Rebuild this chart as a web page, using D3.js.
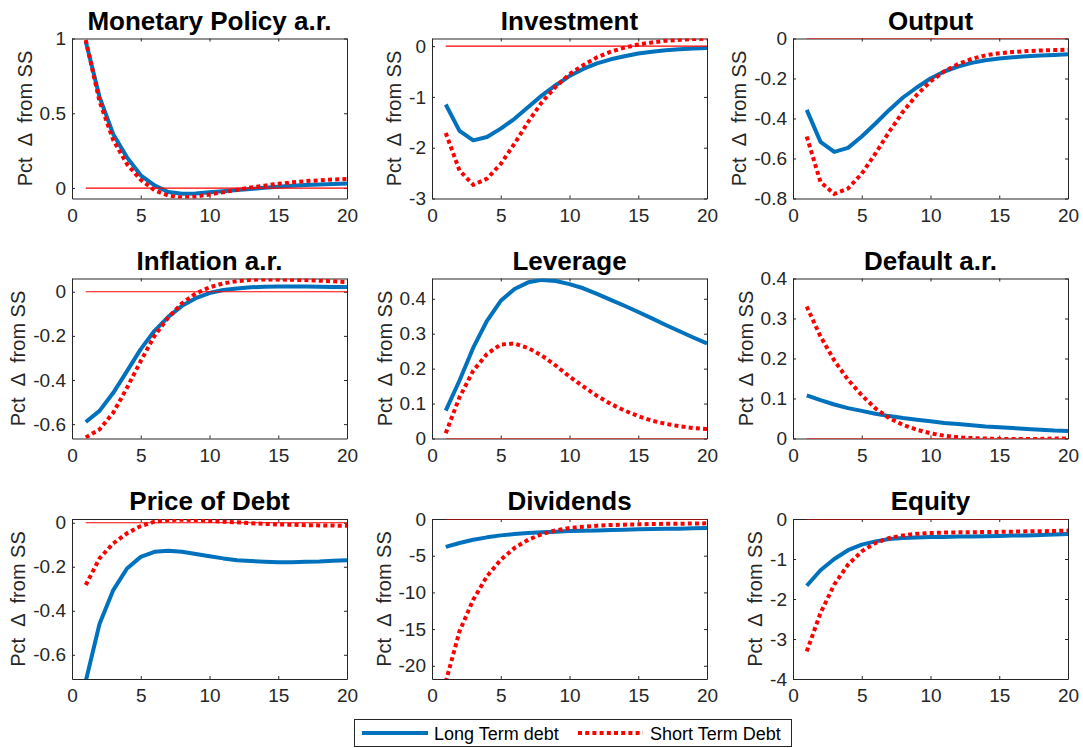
<!DOCTYPE html>
<html>
<head>
<meta charset="utf-8">
<script src="https://cdn.jsdelivr.net/npm/d3@7"></script>
<style>
body { margin: 0; background: #fff; }
svg { display: block; font-family: "Liberation Sans", Arial, Helvetica, sans-serif; }
.axis text { fill: #262626; font-size: 19px; }
.axis line, .axis path { stroke: #262626; stroke-width: 1; }
.ylab { white-space: pre; }
</style>
</head>
<body>
<svg id="chart" width="1083" height="748"></svg>
<script>
// quarters after the shock
var periods = [1, 2, 3, 4, 5, 6, 7, 8, 9, 10, 11, 12, 13, 14, 15, 16, 17, 18, 19, 20];
var xTicks = [0, 5, 10, 15, 20];

var titles = ["Monetary Policy a.r.", "Investment", "Output",
              "Inflation a.r.", "Leverage", "Default a.r.",
              "Price of Debt", "Dividends", "Equity"];

var seriesNames = ["Long Term debt", "Short Term Debt"];

// Long term debt (blue) / short term debt (red dotted)
var mpLong   = [0.98, 0.61, 0.36, 0.205, 0.085, 0.018, -0.027, -0.038, -0.036, -0.029, -0.021, -0.013, -0.006, 0.002, 0.009, 0.015, 0.02, 0.024, 0.027, 0.03];
var mpShort  = [0.99, 0.58, 0.32, 0.16, 0.055, -0.015, -0.05, -0.063, -0.057, -0.043, -0.028, -0.012, 0.003, 0.016, 0.028, 0.038, 0.046, 0.052, 0.057, 0.06];

var invLong  = [-1.15, -1.67, -1.855, -1.79, -1.625, -1.43, -1.2, -0.97, -0.77, -0.59, -0.45, -0.34, -0.26, -0.2, -0.145, -0.11, -0.08, -0.06, -0.046, -0.035];
var invShort = [-1.71, -2.45, -2.73, -2.61, -2.32, -1.92, -1.49, -1.1, -0.8, -0.55, -0.375, -0.22, -0.11, -0.03, 0.033, 0.072, 0.105, 0.125, 0.138, 0.145];

var outLong  = [-0.357, -0.517, -0.567, -0.547, -0.49, -0.425, -0.357, -0.295, -0.245, -0.2, -0.165, -0.14, -0.122, -0.109, -0.1, -0.094, -0.089, -0.085, -0.082, -0.079];
var outShort = [-0.49, -0.718, -0.777, -0.75, -0.676, -0.575, -0.466, -0.366, -0.282, -0.215, -0.165, -0.128, -0.102, -0.084, -0.074, -0.067, -0.063, -0.06, -0.058, -0.056];

var infLong  = [-0.59, -0.54, -0.458, -0.36, -0.26, -0.177, -0.114, -0.064, -0.029, -0.006, 0.008, 0.015, 0.02, 0.023, 0.024, 0.024, 0.024, 0.023, 0.022, 0.021];
var infShort = [-0.66, -0.624, -0.548, -0.435, -0.314, -0.2, -0.117, -0.052, -0.008, 0.02, 0.038, 0.048, 0.054, 0.056, 0.056, 0.054, 0.053, 0.05, 0.047, 0.044];

var levLong  = [0.08, 0.166, 0.26, 0.337, 0.394, 0.428, 0.447, 0.454, 0.451, 0.442, 0.43, 0.414, 0.397, 0.38, 0.362, 0.344, 0.325, 0.307, 0.289, 0.272];
var levShort = [0.015, 0.118, 0.194, 0.242, 0.269, 0.272, 0.259, 0.237, 0.209, 0.177, 0.149, 0.122, 0.099, 0.08, 0.064, 0.051, 0.042, 0.035, 0.03, 0.027];

var defLong  = [0.108, 0.096, 0.085, 0.076, 0.069, 0.062, 0.056, 0.051, 0.047, 0.043, 0.039, 0.036, 0.033, 0.03, 0.028, 0.026, 0.024, 0.022, 0.02, 0.019];
var defShort = [0.33, 0.255, 0.195, 0.147, 0.108, 0.075, 0.051, 0.034, 0.022, 0.013, 0.007, 0.003, 0.001, 0.0, -0.001, -0.001, -0.001, -0.001, 0.0, 0.0];

var podLong  = [-0.72, -0.46, -0.306, -0.208, -0.155, -0.132, -0.127, -0.132, -0.142, -0.152, -0.162, -0.17, -0.174, -0.177, -0.179, -0.179, -0.177, -0.176, -0.173, -0.17];
var podShort = [-0.283, -0.162, -0.094, -0.048, -0.015, 0.005, 0.012, 0.014, 0.012, 0.009, 0.005, 0.002, -0.002, -0.005, -0.008, -0.009, -0.011, -0.012, -0.013, -0.014];

var divLong  = [-3.8, -3.27, -2.82, -2.5, -2.23, -2.05, -1.9, -1.82, -1.73, -1.64, -1.6, -1.55, -1.5, -1.45, -1.41, -1.36, -1.34, -1.32, -1.27, -1.23];
var divShort = [-22.2, -15.3, -11, -7.8, -5.55, -3.95, -2.82, -2.05, -1.55, -1.23, -1.05, -0.91, -0.82, -0.77, -0.73, -0.68, -0.66, -0.64, -0.62, -0.59];

var eqLong   = [-1.67, -1.28, -1.0, -0.78, -0.64, -0.56, -0.5, -0.475, -0.46, -0.45, -0.45, -0.44, -0.435, -0.43, -0.425, -0.415, -0.41, -0.4, -0.39, -0.375];
var eqShort  = [-3.31, -2.35, -1.64, -1.14, -0.81, -0.6, -0.475, -0.41, -0.37, -0.35, -0.34, -0.333, -0.33, -0.325, -0.322, -0.317, -0.308, -0.305, -0.3, -0.29];

// y tick labels per panel
var mpTicks  = [0, 0.5, 1];
var invTicks = [-3, -2, -1, 0];
var outTicks = [-0.8, -0.6, -0.4, -0.2, 0];
var infTicks = [-0.6, -0.4, -0.2, 0];
var levTicks = [0, 0.1, 0.2, 0.3, 0.4];
var defTicks = [0, 0.1, 0.2, 0.3, 0.4];
var podTicks = [-0.6, -0.4, -0.2, 0];
var divTicks = [-20, -15, -10, -5, 0];
var eqTicks  = [-4, -3, -2, -1, 0];

var panels = [
    { long: mpLong,  short: mpShort,  ticks: mpTicks,  domain: [-0.07, 1] },
    { long: invLong, short: invShort, ticks: invTicks, domain: [-3, 0.15] },
    { long: outLong, short: outShort, ticks: outTicks, domain: [-0.8, 0] },
    { long: infLong, short: infShort, ticks: infTicks, domain: [-0.665, 0.06] },
    { long: levLong, short: levShort, ticks: levTicks, domain: [0, 0.458] },
    { long: defLong, short: defShort, ticks: defTicks, domain: [0, 0.4] },
    { long: podLong, short: podShort, ticks: podTicks, domain: [-0.71, 0.017] },
    { long: divLong, short: divShort, ticks: divTicks, domain: [-21.8, 0] },
    { long: eqLong,  short: eqShort,  ticks: eqTicks,  domain: [-4, 0] }
];

var blue = "#0072BD";
var red = "#FF0000";

var svg = d3.select("#chart");
var colLeft = [72, 432, 793];
var rowTop = [38.5, 278.5, 519];
var axW = 275, axH = 160;

var fmt = function(d) { return String(d); };

panels.forEach(function(p, i) {
    var g = svg.append("g")
        .attr("transform", "translate(" + colLeft[i % 3] + "," + rowTop[Math.floor(i / 3)] + ")");

    var x = d3.scaleLinear().domain([0, 20]).range([0, axW]);
    var y = d3.scaleLinear().domain(p.domain).range([axH, 0]);

    g.append("clipPath").attr("id", "clip" + i)
        .append("rect").attr("width", axW).attr("height", axH);

    // box with inward ticks on all sides
    g.append("g").attr("class", "axis")
        .attr("transform", "translate(0," + axH + ")")
        .call(d3.axisBottom(x).tickValues(xTicks).tickSize(-3).tickSizeOuter(0).tickPadding(10).tickFormat(fmt));
    g.append("g").attr("class", "axis")
        .call(d3.axisTop(x).tickValues(xTicks).tickSize(-3).tickSizeOuter(0).tickFormat(""));
    var yAxis = g.append("g").attr("class", "axis")
        .call(d3.axisLeft(y).tickValues(p.ticks).tickSize(-3).tickSizeOuter(0).tickPadding(6).tickFormat(fmt));
    g.append("g").attr("class", "axis")
        .attr("transform", "translate(" + axW + ",0)")
        .call(d3.axisRight(y).tickValues(p.ticks).tickSize(-3).tickSizeOuter(0).tickFormat(""));

    var line = d3.line()
        .x(function(d, k) { return x(periods[k]); })
        .y(function(d) { return y(d); });

    var plot = g.append("g").attr("clip-path", "url(#clip" + i + ")");
    plot.append("path").datum(p.long)
        .attr("d", line)
        .attr("fill", "none")
        .attr("stroke", blue)
        .attr("stroke-width", 4)
        .attr("stroke-linejoin", "round");
    plot.append("path").datum(p.short)
        .attr("d", line)
        .attr("fill", "none")
        .attr("stroke", red)
        .attr("stroke-width", 4)
        .attr("stroke-dasharray", "4,3.2");
    // steady state line
    plot.append("line")
        .attr("x1", x(periods[0])).attr("x2", x(periods[periods.length - 1]))
        .attr("y1", y(0)).attr("y2", y(0))
        .attr("stroke", red)
        .attr("stroke-width", 1.2);

    g.append("text")
        .attr("x", axW / 2)
        .attr("y", -9)
        .attr("text-anchor", "middle")
        .attr("font-size", "26px")
        .attr("font-weight", "bold")
        .attr("fill", "#000")
        .text(titles[i]);

    // place y label left of the widest tick label
    var maxW = 0;
    yAxis.selectAll("text").each(function() {
        maxW = Math.max(maxW, this.getComputedTextLength());
    });
    g.append("text")
        .attr("class", "ylab")
        .attr("transform", "translate(" + (-(maxW + 6 + 8)) + "," + (axH / 2) + ") rotate(-90)")
        .attr("text-anchor", "middle")
        .attr("font-size", "20px")
        .attr("fill", "#262626")
        .text("Pct  \u0394  from SS");
});

// legend
var legend = svg.append("g");
legend.append("rect")
    .attr("x", 354.5).attr("y", 719.5)
    .attr("width", 437).attr("height", 27)
    .attr("fill", "#fff")
    .attr("stroke", "#262626")
    .attr("stroke-width", 1);
legend.append("line")
    .attr("x1", 362).attr("x2", 428).attr("y1", 733).attr("y2", 733)
    .attr("stroke", blue).attr("stroke-width", 4);
legend.append("text")
    .attr("x", 434).attr("y", 740)
    .attr("font-size", "18px").attr("fill", "#000")
    .text(seriesNames[0]);
legend.append("line")
    .attr("x1", 578).attr("x2", 643).attr("y1", 733).attr("y2", 733)
    .attr("stroke", red).attr("stroke-width", 4)
    .attr("stroke-dasharray", "4,3.2");
legend.append("text")
    .attr("x", 650).attr("y", 740)
    .attr("font-size", "18px").attr("fill", "#000")
    .text(seriesNames[1]);
</script>
</body>
</html>
